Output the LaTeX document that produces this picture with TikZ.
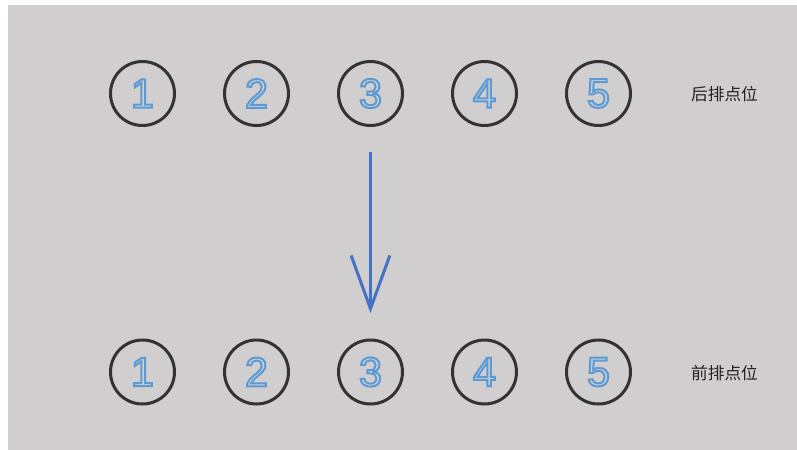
\documentclass[tikz,border=0pt]{standalone}
\usepackage{fontspec}
\setmainfont{Liberation Sans}
\newfontfamily\cjk{Noto Sans CJK SC}
\usetikzlibrary{arrows.meta}

\definecolor{bggray}{RGB}{208,206,206}
\definecolor{numblue}{RGB}{91,155,213}
\definecolor{arrowblue}{RGB}{68,114,196}
\definecolor{ringgray}{RGB}{51,51,51}
% hollow digits: stroke the glyph outline only
\newcommand{\spotnum}[1]{\textcolor{numblue}{\special{pdf:literal direct 1 Tr 1.5 w}#1\special{pdf:literal direct 0 Tr}}}

\tikzset{
  spot/.style={circle, draw=ringgray, line width=2.25pt, minimum size=48pt, inner sep=0pt,
    font=\fontsize{31}{31}\selectfont},
  rowlabel/.style={inner sep=0.75pt, text={rgb,255:red,34;green,34;blue,34}, font=\cjk\fontsize{12.5}{14}\selectfont},
  moveflow/.style={draw=arrowblue, line width=2pt, shorten <=19pt, shorten >=19pt,
    -{Straight Barb[length=40pt,width=29pt,line width=2.25pt]}}
}

\begin{document}
\begin{tikzpicture}[x=0.75pt,y=0.75pt,yscale=-1,xscale=1]
%set diagram size to 797 x 450
\path[use as bounding box, fill=white] (0,0) rectangle (797,450);
\fill[bggray] (8,5) rectangle (797,450);

% Back row
\node[spot] (t1) at (142.5,93.5) {\spotnum{1}};
\node[spot] (t2) at (256.5,93.5) {\spotnum{2}};
\node[spot] (t3) at (370.5,93.5) {\spotnum{3}};
\node[spot] (t4) at (484.5,93.5) {\spotnum{4}};
\node[spot] (t5) at (598.5,93.5) {\spotnum{5}};

% Front row
\node[spot] (b1) at (142.5,372) {\spotnum{1}};
\node[spot] (b2) at (256.5,372) {\spotnum{2}};
\node[spot] (b3) at (370.5,372) {\spotnum{3}};
\node[spot] (b4) at (484.5,372) {\spotnum{4}};
\node[spot] (b5) at (598.5,372) {\spotnum{5}};

% Text Node
\node[rowlabel] (backlbl) at (724.5,94) {后排点位};
% Text Node
\node[rowlabel] (frontlbl) at (724.5,373) {前排点位};

%Straight Lines
\draw[moveflow] (t3) -- (b3);

\end{tikzpicture}
\end{document}
